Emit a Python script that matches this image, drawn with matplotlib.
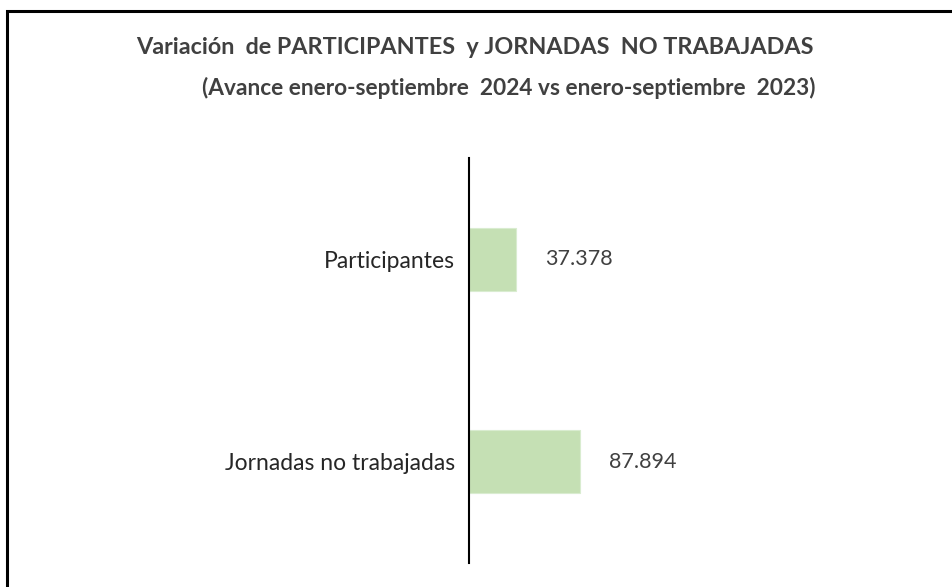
import matplotlib.pyplot as plt
from matplotlib.patches import Rectangle

plt.rcParams['font.family'] = ['Lato', 'DejaVu Sans']

# Data
categories = ['Participantes', 'Jornadas no trabajadas']
values = [37378, 87894]
value_labels = ['37.378', '87.894']

title = 'Variación  de PARTICIPANTES  y JORNADAS  NO TRABAJADAS'
subtitle = '(Avance enero-septiembre  2024 vs enero-septiembre  2023)'

fig = plt.figure(figsize=(9.53, 5.87), dpi=100)
W, H = 953, 587

# outer frame (cut at right and bottom like the original)
fig.patches.append(Rectangle((7.5 / W, -0.1), 1.2, (H - 10.5) / H + 0.1,
                             transform=fig.transFigure, fill=False,
                             edgecolor='black', linewidth=2.2))

ax = fig.add_axes([469 / W, (H - 563) / H, (900 - 469) / W, (563 - 158) / H])
ax.barh(range(len(categories)), values, height=0.31, color='#c5e0b4',
        edgecolor='#d9ecd0', linewidth=0.8)
ax.set_ylim(1.5, -0.5)
ax.set_xlim(0, 341000)

for i, (v, lab) in enumerate(zip(values, value_labels)):
    ax.annotate(lab, (v, i), xytext=(21, 0), textcoords='offset points',
                va='center', ha='left', fontsize=15.5, color='#404040')

ax.set_yticks(range(len(categories)))
ax.set_yticklabels(categories, fontsize=16.5, color='#262626')
ax.tick_params(axis='y', length=0, pad=10)
ax.set_xticks([])
for s in ['top', 'right', 'bottom']:
    ax.spines[s].set_visible(False)
ax.spines['left'].set_linewidth(1.5)
ax.spines['left'].set_color('black')

fig.text(475 / W, 1 - 47 / H, title, ha='center', va='center',
         fontsize=16.8, fontweight='bold', color='#404040')
fig.text(509 / W, 1 - 88 / H, subtitle, ha='center', va='center',
         fontsize=16.3, fontweight='bold', color='#404040')

plt.savefig('out.png', dpi=100)
